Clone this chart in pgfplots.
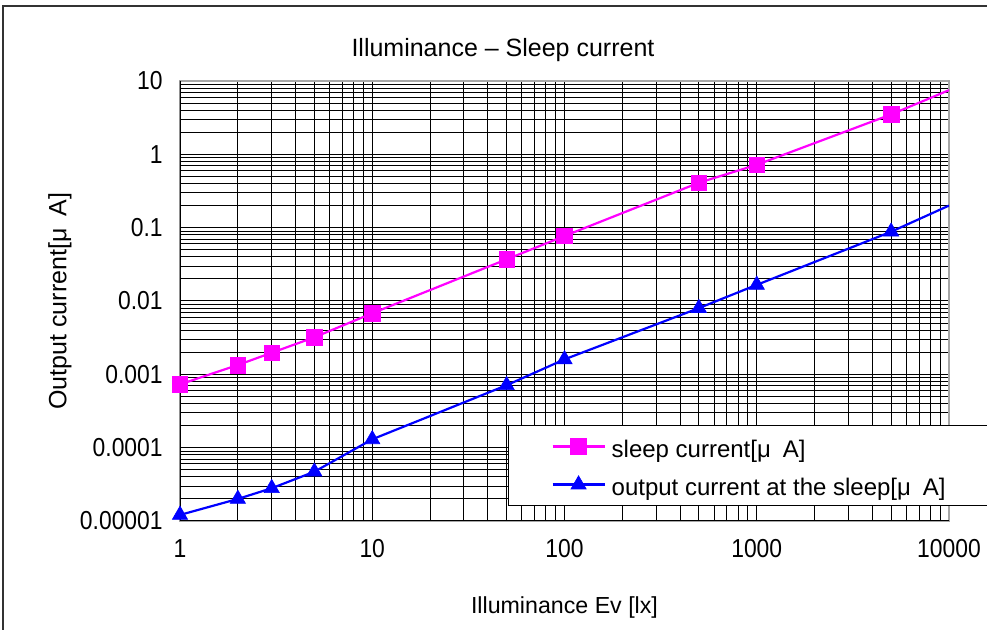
\documentclass[border=0pt]{standalone}
\usepackage{fontspec}
\setmainfont{Liberation Sans}
\newfontfamily\tickfont{Liberation Sans}[FakeStretch=0.88]
\usepackage{pgfplots}
\pgfplotsset{compat=1.18}
\definecolor{exmag}{RGB}{255,0,255}
\definecolor{exblue}{RGB}{0,0,255}
\newcommand{\fs}{\tickfont\fontsize{13}{15.6}\selectfont}
\newcommand{\ft}{\fontsize{12.5}{15}\selectfont}
\newcommand{\fl}{\fontsize{11.6}{14}\selectfont}
\newcommand{\fg}{\fontsize{12}{14.4}\selectfont}
\begin{document}
\fl
\begin{tikzpicture}
\useasboundingbox (-90pt,-54.5pt) rectangle (403.5pt,260.5pt);
\draw[black!80, line width=0.6pt] (-88.5pt,-70pt) -- (-88.5pt,257.5pt) -- (420pt,257.5pt);
\begin{axis}[
  at={(0,0)}, anchor=south west,
  scale only axis, width=384.5pt, height=220pt,
  xmode=log, ymode=log,
  xmin=1, xmax=10000, ymin=1e-5, ymax=10,
  xtick={1,10,100,1000,10000},
  xticklabels={1,10,100,1000,10000},
  ytick={1e-5,1e-4,1e-3,1e-2,1e-1,1,10},
  yticklabels={0.00001,0.0001,0.001,0.01,0.1,1,10},
  minor xtick={2,3,4,5,6,7,8,9,20,30,40,50,60,70,80,90,200,300,400,500,600,700,800,900,2000,3000,4000,5000,6000,7000,8000,9000},
  minor ytick={2e-5,3e-5,4e-5,5e-5,6e-5,7e-5,8e-5,9e-5,
               2e-4,3e-4,4e-4,5e-4,6e-4,7e-4,8e-4,9e-4,
               2e-3,3e-3,4e-3,5e-3,6e-3,7e-3,8e-3,9e-3,
               0.02,0.03,0.04,0.05,0.06,0.07,0.08,0.09,
               0.2,0.3,0.4,0.5,0.6,0.7,0.8,0.9,
               2,3,4,5,6,7,8,9},
  grid=both,
  major grid style={black, line width=0.5pt},
  minor grid style={black, line width=0.5pt},
  major tick length=0pt, minor tick length=0pt,
  axis line style={draw=gray!70, line width=1pt},
  /pgf/number format/assume math mode=true,
  ticklabel style={font=\fs},
  xticklabel shift=5pt,
  yticklabel shift=4.6pt,
  title={Illuminance\ –\ Sleep current},
  title style={at={(axis description cs:0.42,1.0705)}, anchor=center, yshift=-6pt, font=\ft},
  xlabel={Illuminance Ev [lx]},
  every axis x label/.style={at={(axis description cs:0.5,-0.1977)}, anchor=center, font=\fl},
  ylabel={Output current[μ\hspace{0.5em}A]},
  every axis y label/.style={at={(axis description cs:-0.156,0.5)}, rotate=90, anchor=center, font=\ft},
  legend style={at={(axis description cs:0.4265,0.218)}, anchor=north west,
    draw=black, line width=0.5pt, fill=white,
    inner xsep=21.5pt, inner ysep=3.5pt, row sep=5pt,
    nodes={inner sep=1.5pt, text height=11pt, text depth=0pt},
    font=\fg},
  legend cell align=left,
  legend image code/.code={\draw[#1, mark indices={2}] plot coordinates {(0pt,0pt) (13pt,0pt) (26pt,0pt)};},
]
\addplot[color=exmag, line width=1.1pt, mark=square*, mark size=3.9pt,
  mark options={fill=exmag, draw=exmag, line width=0.3pt},
  mark indices={1,2,3,4,5,6,7,8,9,10}] coordinates {
  (1,0.00073) (2,0.00134) (3,0.00197) (5,0.0032) (10,0.0068)
  (50,0.037) (100,0.077) (500,0.41) (1000,0.72) (5000,3.5) (10000,7.5)
};
\addlegendentry{\makebox[200pt][l]{\hspace{1.5pt}sleep current[μ\hspace{0.5em}A]}}
\addplot[color=exblue, line width=1.1pt, mark=triangle*, mark size=4.4pt,
  mark options={fill=exblue, draw=exblue, line width=0.3pt},
  mark indices={1,2,3,4,5,6,7,8,9,10}] coordinates {
  (1,1.21e-5) (2,2.0e-5) (3,2.8e-5) (5,4.7e-5) (10,1.3e-4)
  (50,7.1e-4) (100,0.0016) (500,0.008) (1000,0.0166) (5000,0.088) (10000,0.2)
};
\addlegendentry{\makebox[200pt][l]{\hspace{1.5pt}output current at the sleep[μ\hspace{0.5em}A]}}
\draw[black, line width=0.9pt] (rel axis cs:0,1) -- (rel axis cs:0,0) -- (rel axis cs:1,0);
\end{axis}
\end{tikzpicture}
\end{document}
